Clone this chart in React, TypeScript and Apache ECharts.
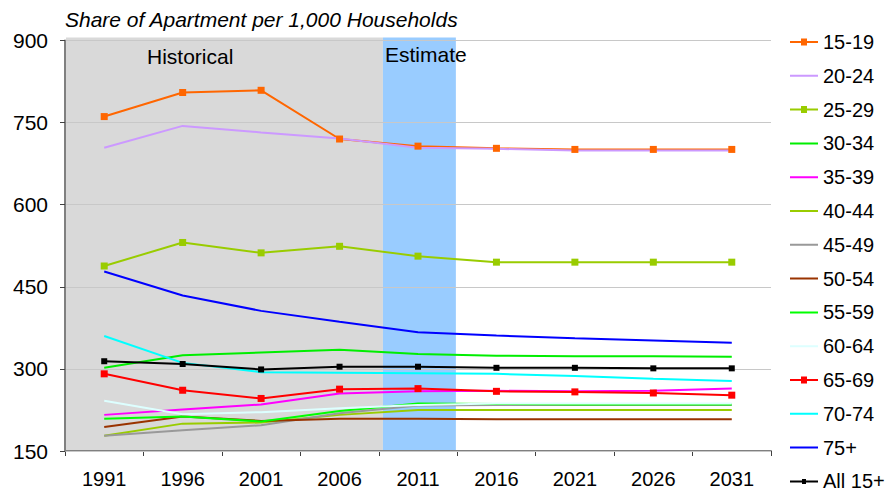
import React, { useEffect, useRef } from "react";
import * as echarts from "echarts";

const years = ["1991", "1996", "2001", "2006", "2011", "2016", "2021", "2026", "2031"];

const seriesNames = ["15-19", "20-24", "25-29", "30-34", "35-39", "40-44", "45-49", "50-54", "55-59", "60-64", "65-69", "70-74", "75+", "All 15+"];

const s15_19 = [761, 805, 809, 720, 707, 703, 701, 701, 701];
const s20_24 = [704, 744, 732, 721, 704, 702, 699, 699, 699];
const s25_29 = [488, 531, 512, 524, 506, 495, 495, 495, 495];
const s30_34 = [302, 325, 330, 335, 327, 324, 323, 323, 322];
const s35_39 = [216, 226, 235, 255, 259, 260, 259, 260, 264];
const s40_44 = [178, 200, 202, 216, 225, 225, 225, 225, 225];
const s45_49 = [178, 188, 197, 219, 233, 234, 234, 234, 234];
const s50_54 = [194, 213, 205, 209, 209, 208, 208, 208, 208];
const s55_59 = [209, 213, 204, 223, 237, 236, 235, 235, 235];
const s60_64 = [242, 217, 221, 228, 234, 237, 237, 237, 237];
const s65_69 = [291, 261, 246, 263, 264, 259, 258, 256, 252];
const s70_74 = [360, 311, 294, 293, 292, 291, 287, 282, 278];
const s75p = [478, 434, 406, 386, 367, 361, 356, 352, 348];
const sAll = [314, 309, 299, 304, 304, 302, 302, 301, 301];

const seriesValues = [s15_19, s20_24, s25_29, s30_34, s35_39, s40_44, s45_49, s50_54, s55_59, s60_64, s65_69, s70_74, s75p, sAll];
const seriesColors = ["#FF6600", "#CC99FF", "#99CC00", "#00EE00", "#FF00FF", "#99CC00", "#999999", "#993300", "#00FF00", "#DDFFFF", "#FF0000", "#00FFFF", "#0000FF", "#000000"];
const seriesMarkers = [true, false, true, false, false, false, false, false, false, false, true, false, false, true];

// background periods on a 0..9 category-slot scale
const bandStart = [0, 4.04];
const bandEnd = [4.04, 4.97];
const bandColors = ["#D9D9D9", "#99CCFF"];

const yTicks = { min: 150, max: 900, interval: 150 };
const FONT = "'Liberation Sans', Arial, sans-serif";

const ICON_LINE = "path://M0,0 L0.01,0 M0,6 L28,6 L28,8 L0,8 Z M28,14 L27.99,14";
const ICON_MARK = "path://M0,0 L0.01,0 M0,6 L28,6 L28,8 L0,8 Z M11,3.5 L17,3.5 L17,10.5 L11,10.5 Z M28,14 L27.99,14";
const ICON_MARK_SMALL = "path://M0,0 L0.01,0 M0,6 L28,6 L28,8 L0,8 Z M12,4.5 L16,4.5 L16,9.5 L12,9.5 Z M28,14 L27.99,14";

export default function App() {
  const ref = useRef<HTMLDivElement>(null);
  useEffect(() => {
    if (!ref.current) return;
    const chart = echarts.init(ref.current, null, { renderer: "svg" });
    const lineSeries = seriesNames.map((name, i) => ({
      name,
      type: "line",
      data: seriesValues[i],
      xAxisIndex: 0,
      yAxisIndex: 0,
      z: 3,
      symbol: seriesMarkers[i] ? "rect" : "none",
      symbolSize: i === 13 ? 6 : 7,
      showSymbol: seriesMarkers[i],
      itemStyle: { color: seriesColors[i] },
      lineStyle: { color: seriesColors[i], width: 2 },
      emphasis: { disabled: true },
    }));
    const bandSeries = {
      type: "custom",
      name: "bands",
      xAxisIndex: 1,
      yAxisIndex: 0,
      z: 1,
      clip: false,
      silent: true,
      data: bandStart.map((s, i) => [s, bandEnd[i], yTicks.min, yTicks.max]),
      encode: { x: [0, 1], y: [2, 3] },
      renderItem: (params: any, api: any) => {
        const p0 = api.coord([api.value(0), api.value(3)]);
        const p1 = api.coord([api.value(1), api.value(2)]);
        return {
          type: "rect",
          shape: { x: p0[0] + 1, y: p0[1] - 3, width: p1[0] - p0[0], height: p1[1] - p0[1] + 2 },
          style: { fill: bandColors[params.dataIndex] },
        };
      },
    };
    chart.setOption({
      animation: false,
      backgroundColor: "#FFFFFF",
      textStyle: { fontFamily: FONT },
      title: {
        text: "Share of Apartment per 1,000 Households",
        left: 65,
        top: 9,
        padding: 0,
        textStyle: { fontFamily: FONT, fontStyle: "italic", fontWeight: "normal", fontSize: 21, color: "#000" },
      },
      legend: {
        orient: "vertical",
        left: 790,
        top: 32,
        bottom: 0,
        padding: 0,
        itemWidth: 28,
        itemHeight: 14,
        itemGap: 13.8,
        data: seriesNames.map((name, i) => ({
          name,
          icon: seriesMarkers[i] ? (i === 13 ? ICON_MARK_SMALL : ICON_MARK) : ICON_LINE,
          itemStyle: { color: seriesColors[i], borderWidth: 0 },
        })),
        textStyle: { fontFamily: FONT, fontSize: 20, color: "#000", lineHeight: 20 },
      },
      grid: { left: 65, right: 117, top: 40.5, bottom: 43, containLabel: false },
      xAxis: [
        {
          type: "category",
          data: years,
          boundaryGap: true,
          axisLine: { lineStyle: { color: "#808080", width: 2 } },
          axisTick: { show: true, interval: 0, length: 5, lineStyle: { color: "#404040", width: 1 } },
          axisLabel: { interval: 0, fontFamily: FONT, fontSize: 20, color: "#000", margin: 18 },
          splitLine: { show: false },
        },
        { type: "value", min: 0, max: 9, show: false },
      ],
      yAxis: {
        type: "value",
        min: yTicks.min,
        max: yTicks.max,
        interval: yTicks.interval,
        z: 2,
        axisLine: { show: true, lineStyle: { color: "#808080", width: 2 } },
        axisTick: { show: true, length: 5, lineStyle: { color: "#404040", width: 1 } },
        axisLabel: { fontFamily: FONT, fontSize: 21, color: "#000", margin: 17 },
        splitLine: { show: true, lineStyle: { color: "#C8C8C8", width: 1 } },
      },
      graphic: [
        { type: "text", left: 147, top: 46, z: 5, style: { text: "Historical", font: `21px ${FONT}`, fill: "#000" } },
        { type: "text", left: 385, top: 44, z: 5, style: { text: "Estimate", font: `21px ${FONT}`, fill: "#000" } },
      ],
      series: [bandSeries, ...lineSeries],
    });
    return () => chart.dispose();
  }, []);
  return <div ref={ref} style={{ width: 888, height: 494, position: "absolute", left: 0, top: 0 }} />;
}
